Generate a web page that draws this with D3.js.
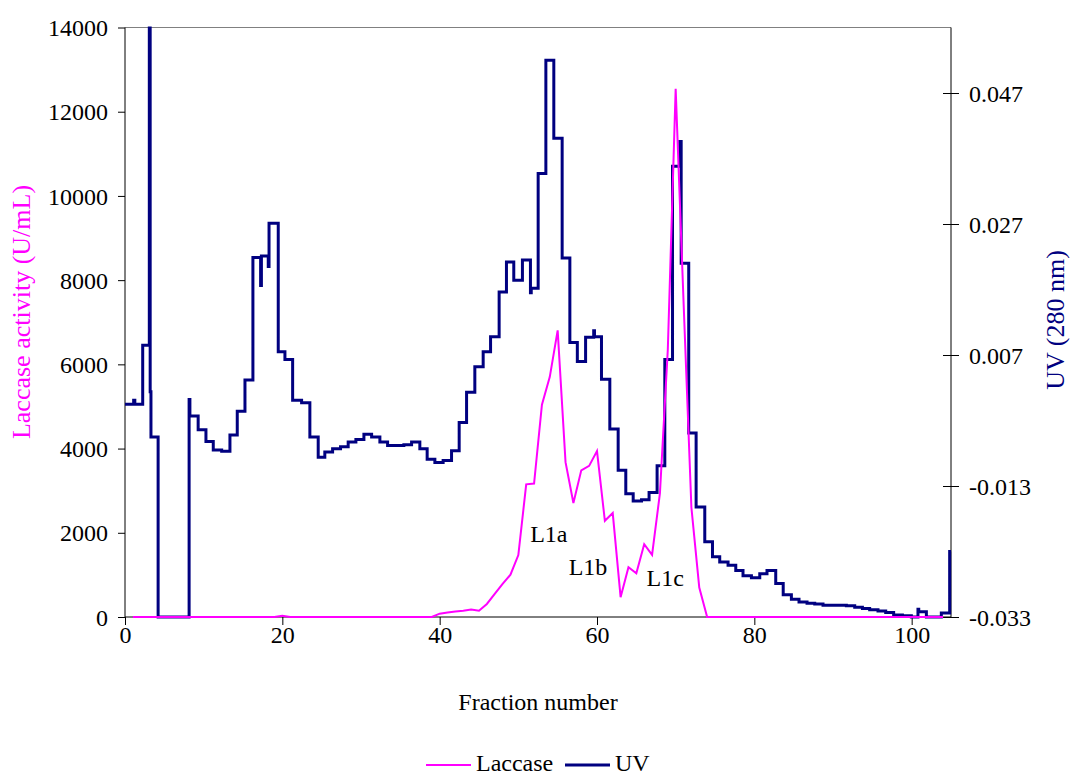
<!DOCTYPE html>
<html>
<head>
<meta charset="utf-8">
<script src="https://cdn.jsdelivr.net/npm/d3@7.9.0/dist/d3.min.js"></script>
<style>
  body { margin: 0; background: #fff; }
  svg text { font-family: "Liberation Serif", "Times New Roman", serif; }
</style>
</head>
<body>
<svg id="chart" width="1072" height="776"></svg>
<script>
// laccase activity (U/mL) per fraction
const laccaseFraction = [
  1, 2, 3, 4, 5, 6, 7, 8, 9, 10, 11, 12, 13, 14, 15, 16, 17, 18, 19, 20,
  21, 22, 23, 24, 25, 26, 27, 28, 29, 30, 31, 32, 33, 34, 35, 36, 37, 38, 39, 40,
  41, 42, 43, 44, 45, 46, 47, 48, 49, 50, 51, 52, 53, 54, 55, 56, 57, 58, 59, 60,
  61, 62, 63, 64, 65, 66, 67, 68, 69, 70, 71, 72, 73, 74, 75, 76, 77, 78, 79, 80,
  81, 82, 83, 84, 85, 86, 87, 88, 89, 90, 91, 92, 93, 94, 95, 96, 97, 98, 99, 100,
  101, 102, 103, 104
];
const laccaseActivity = [
  0, 0, 0, 0, 0, 0, 0, 0, 0, 0, 0, 0, 0, 0, 0, 0, 0, 0, 0, 30,
  0, 0, 0, 0, 0, 0, 0, 0, 0, 0, 0, 0, 0, 0, 0, 0, 0, 0, 0, 79,
  106, 132, 150, 176, 150, 309, 547, 785, 1005, 1472, 3150, 3170, 5043, 5704, 6807, 3677, 2707, 3483, 3589, 3941,
  2284, 2469, 470, 1181, 1039, 1728, 1474, 2940, 6346, 12543, 7500, 2600, 700, 0, 0, 0, 0, 0, 0, 0,
  0, 0, 0, 0, 0, 0, 0, 0, 0, 0, 0, 0, 0, 0, 0, 0, 0, 0, 0, 0,
  0, 0, 0, 0
];

// UV trace (280 nm): fraction where each step starts, and its level
const uvFraction = [
  0, 1.1, 1.25, 2.25, 3.09, 3.2, 3.3, 4.21, 8.15, 8.25,
  9.3, 10.29, 11.22, 12.29, 13.34, 14.27, 15.25, 16.26, 17.24, 17.34,
  18.21, 18.31, 19.48, 20.33, 21.31, 22.45, 23.5, 24.56, 25.4, 26.39,
  27.4, 28.37, 29.35, 30.37, 31.35, 32.4, 33.38, 34.5, 35.45, 36.43,
  37.48, 38.41, 39.39, 40.44, 41.51, 42.48, 43.42, 44.47, 45.53, 46.47,
  47.56, 48.49, 49.42, 50.52, 51.54, 51.64, 52.52, 53.5, 54.51, 55.57,
  56.55, 57.5, 58.55, 59.58, 59.68, 60.57, 61.63, 62.69, 63.66, 64.6,
  65.66, 66.62, 67.64, 68.62, 69.6, 70.52, 70.7, 71.66, 72.6, 73.7,
  74.68, 75.6, 76.66, 77.64, 78.56, 79.63, 80.69, 81.61, 82.72, 83.67,
  84.71, 85.68, 86.7, 87.68, 88.73, 89.8, 90.76, 91.7, 92.76, 93.74,
  94.66, 95.72, 96.7, 97.71, 98.82, 99.96, 100.8, 100.9, 101.87, 103.77,
  104.83, 105
];
const uvValue = [
  -0.0005, 0.0001, -0.0005, 0.0085, 0.057, 0.0014, -0.0055, -0.033, 0.0002, -0.0023,
  -0.0044, -0.0062, -0.0075, -0.0077, -0.0052, -0.0016, 0.0032, 0.0219, 0.0176, 0.0221,
  0.0205, 0.0271, 0.0075, 0.0063, 0.0001, -0.0003, -0.0055, -0.0086, -0.0078, -0.0073,
  -0.0070, -0.0063, -0.0059, -0.0051, -0.0055, -0.0063, -0.0068, -0.0068, -0.0067, -0.0063,
  -0.0073, -0.0089, -0.0094, -0.0091, -0.0076, -0.0033, 0.0013, 0.0052, 0.0075, 0.0098,
  0.0166, 0.0212, 0.0184, 0.0215, 0.0165, 0.0172, 0.0347, 0.0520, 0.0401, 0.0218,
  0.0089, 0.0060, 0.0097, 0.0107, 0.0098, 0.0033, -0.0043, -0.0106, -0.0142, -0.0153,
  -0.0151, -0.0140, -0.0099, 0.0063, 0.0358, 0.0396, 0.0210, -0.0049, -0.0162, -0.0215,
  -0.0238, -0.0246, -0.0251, -0.0259, -0.0267, -0.0270, -0.0264, -0.0259, -0.0279, -0.0296,
  -0.0303, -0.0307, -0.0309, -0.0310, -0.0312, -0.0312, -0.0312, -0.0313, -0.0315, -0.0317,
  -0.0319, -0.0321, -0.0323, -0.0327, -0.0328, -0.0330, -0.0318, -0.0322, -0.0330, -0.0324,
  -0.0230, -0.0230
];

// tick labels
const xTicks = [0, 20, 40, 60, 80, 100];
const laccaseTicks = [0, 2000, 4000, 6000, 8000, 10000, 12000, 14000];
const uvTicks = [-0.033, -0.013, 0.007, 0.027, 0.047];

// peak labels
const peakLabels = ['L1a', 'L1b', 'L1c'];
const peakFraction = [51.5, 56.4, 66.3];
const peakActivity = [1780, 1000, 740];

const pink = '#FF00FF';
const navy = '#000080';

const svg = d3.select('#chart');
const plotLeft = 125, plotRight = 951, plotTop = 27.5, plotBottom = 617;

let x = d3.scaleLinear().domain([0, 105]).range([plotLeft, plotRight]);
let yLac = d3.scaleLinear().domain([0, 14000]).range([plotBottom, plotTop]);
let yUV = d3.scaleLinear().domain([-0.033, 0.057]).range([plotBottom, plotTop]);

svg.append('defs').append('clipPath').attr('id', 'plot')
  .append('rect')
  .attr('x', plotLeft).attr('y', plotTop - 1)
  .attr('width', plotRight - plotLeft + 2).attr('height', plotBottom - plotTop + 4);

// plot frame
svg.append('line')
  .attr('x1', plotLeft).attr('x2', plotRight).attr('y1', plotTop).attr('y2', plotTop)
  .attr('stroke', '#808080');

let xAxis = svg.append('g')
  .attr('transform', `translate(0,${plotBottom})`)
  .call(d3.axisBottom(x).tickValues(xTicks).tickSize(8).tickPadding(1).tickFormat(d3.format('d')));

let yAxisL = svg.append('g')
  .attr('transform', `translate(${plotLeft},0)`)
  .call(d3.axisLeft(yLac).tickValues(laccaseTicks).tickSize(7).tickPadding(10).tickFormat(d3.format('d')));

let yAxisR = svg.append('g')
  .attr('transform', `translate(${plotRight},0)`)
  .call(d3.axisRight(yUV).tickValues(uvTicks).tickSize(8).tickPadding(10).tickFormat(d => d.toFixed(3)));
yAxisR.selectAll('.tick line').attr('x1', -8);

[xAxis, yAxisL, yAxisR].forEach(g => {
  g.select('.domain').remove();
  g.selectAll('.tick line').attr('stroke', '#000');
  g.selectAll('text').attr('font-size', 24).attr('fill', '#000')
    .style('font-family', '"Liberation Serif", "Times New Roman", serif');
});
yAxisL.selectAll('text').attr('dy', '0.34em');
yAxisR.selectAll('text').attr('dy', '0.34em');

svg.append('line').attr('x1', plotLeft).attr('x2', plotRight).attr('y1', plotBottom).attr('y2', plotBottom).attr('stroke', '#000');
svg.append('line').attr('x1', plotLeft).attr('x2', plotLeft).attr('y1', plotTop).attr('y2', plotBottom).attr('stroke', '#000');
svg.append('line').attr('x1', plotRight).attr('x2', plotRight).attr('y1', plotTop).attr('y2', plotBottom).attr('stroke', '#000');

// UV steps
let uvLine = d3.line()
  .x(d => x(d[0]))
  .y(d => yUV(d[1]))
  .curve(d3.curveStepAfter);

svg.append('path')
  .datum(d3.zip(uvFraction, uvValue))
  .attr('clip-path', 'url(#plot)')
  .attr('fill', 'none')
  .attr('stroke', navy)
  .attr('stroke-width', 3)
  .attr('d', uvLine);

// laccase
let lacLine = d3.line()
  .x(d => x(d[0]))
  .y(d => yLac(d[1]));

svg.append('path')
  .datum(d3.zip(laccaseFraction, laccaseActivity))
  .attr('fill', 'none')
  .attr('stroke', pink)
  .attr('stroke-width', 2)
  .attr('d', lacLine);

svg.selectAll('text.peak')
  .data(peakLabels)
  .enter()
  .append('text')
  .attr('class', 'peak')
  .attr('x', (d, i) => x(peakFraction[i]))
  .attr('y', (d, i) => yLac(peakActivity[i]))
  .attr('font-size', 24)
  .text(d => d);

// axis titles
svg.append('text')
  .attr('transform', 'translate(30,312) rotate(-90)')
  .attr('text-anchor', 'middle')
  .attr('font-size', 26)
  .attr('fill', pink)
  .text('Laccase activity (U/mL)');

svg.append('text')
  .attr('transform', 'translate(1064,320) rotate(-90)')
  .attr('text-anchor', 'middle')
  .attr('font-size', 26)
  .attr('fill', navy)
  .text('UV (280 nm)');

svg.append('text')
  .attr('x', (plotLeft + plotRight) / 2)
  .attr('y', 710)
  .attr('text-anchor', 'middle')
  .attr('font-size', 24)
  .text('Fraction number');

// legend
let legend = svg.append('g');
let items = [
  { label: 'Laccase', color: pink, width: 2, x: 426 },
  { label: 'UV', color: navy, width: 3, x: 565 }
];
items.forEach(d => {
  legend.append('line')
    .attr('x1', d.x).attr('x2', d.x + 45)
    .attr('y1', 765).attr('y2', 765)
    .attr('stroke', d.color).attr('stroke-width', d.width);
  legend.append('text')
    .attr('x', d.x + 50).attr('y', 771)
    .attr('font-size', 24)
    .text(d.label);
});
</script>
</body>
</html>
